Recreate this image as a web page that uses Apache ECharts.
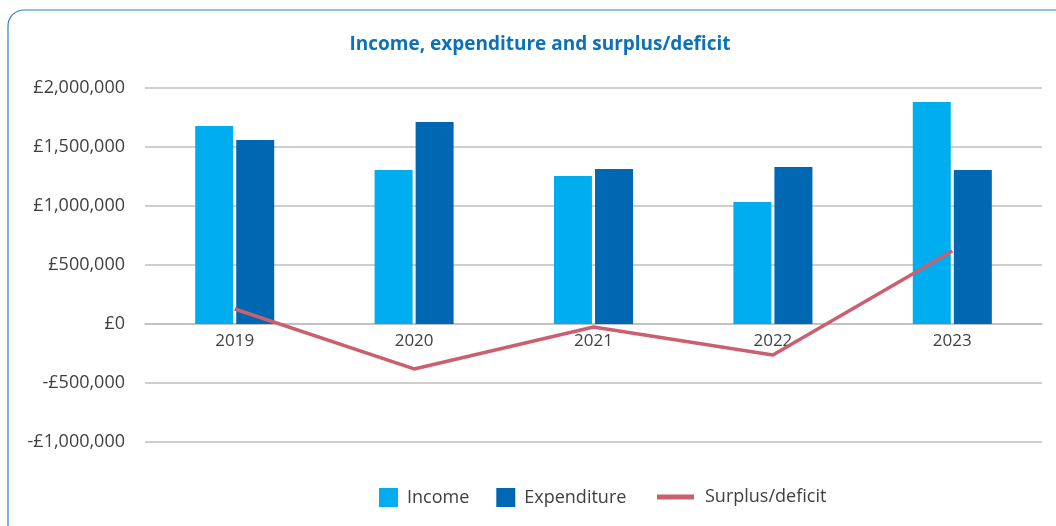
<!DOCTYPE html>
<html>
<head>
<meta charset="utf-8">
<script src="https://cdn.jsdelivr.net/npm/echarts@6/dist/echarts.min.js"></script>
<style>
html,body{margin:0;padding:0;background:#fff;}
#c{width:1056px;height:526px;}
</style>
</head>
<body>
<div id="c"></div>
<script>
const categories = ['2019', '2020', '2021', '2022', '2023'];
const income = [1678000, 1305000, 1254000, 1034000, 1881000];
const expenditure = [1559000, 1712000, 1314000, 1331000, 1305000];
const surplus = [127000, -381000, -25000, -263000, 619000];
const yTicks = { min: -1000000, max: 2000000, interval: 500000 };

const FONT = '"Open Sans", "Noto Sans", sans-serif';
function fmt(v) {
  const s = Math.abs(v).toLocaleString('en-GB');
  return (v < 0 ? '-' : '') + '£' + s;
}

const chart = echarts.init(document.getElementById('c'), null, { renderer: 'canvas' });
chart.setOption({
  animation: false,
  backgroundColor: '#fff',
  textStyle: { fontFamily: FONT },
  graphic: [{
    type: 'rect',
    shape: { x: 8, y: 10, width: 1200, height: 700, r: 16 },
    style: { fill: 'none', stroke: '#2f7fc8', lineWidth: 1.2 },
    silent: true, z: -10
  }],
  title: {
    text: 'Income, expenditure and surplus/deficit',
    left: 540, top: 35, textAlign: 'center', padding: 0,
    textStyle: { color: '#0b71bb', fontSize: 19, fontWeight: 'bold', fontFamily: FONT }
  },
  grid: { left: 145, right: 14, top: 88, bottom: 84, containLabel: false },
  legend: [{
    data: ['Income', 'Expenditure'],
    left: 379, top: 488, padding: 0,
    icon: 'rect', itemWidth: 19, itemHeight: 19, itemGap: 27,
    textStyle: { color: '#404040', fontSize: 18, fontFamily: FONT, padding: [0, 0, 0, 4] }
  }, {
    data: ['Surplus/deficit'],
    left: 657, top: 488, padding: 0,
    icon: 'rect', itemWidth: 37, itemHeight: 5,
    textStyle: { color: '#404040', fontSize: 18, fontFamily: FONT, padding: [0, 0, 0, 6] }
  }],
  xAxis: {
    type: 'category', data: categories,
    offset: -118,
    axisLine: { show: true, onZero: false, lineStyle: { color: '#bfbfbf', width: 1.5 } },
    axisTick: { show: false },
    axisLabel: { color: '#404040', fontSize: 17, margin: 9, fontFamily: FONT }
  },
  yAxis: {
    type: 'value', min: yTicks.min, max: yTicks.max, interval: yTicks.interval,
    axisLine: { show: false }, axisTick: { show: false },
    splitLine: { lineStyle: { color: '#bfbfbf', width: 1.5 } },
    axisLabel: { color: '#404040', fontSize: 18, margin: 20, fontFamily: FONT, formatter: fmt }
  },
  series: [{
    name: 'Income', type: 'bar', data: income, barWidth: 38, barGap: '8%',
    itemStyle: { color: '#00aeef' }
  }, {
    name: 'Expenditure', type: 'bar', data: expenditure, barWidth: 38,
    itemStyle: { color: '#0068b3' }
  }, {
    name: 'Surplus/deficit', type: 'line', data: surplus,
    symbol: 'none', lineStyle: { color: '#cc5f6f', width: 3.5 },
    itemStyle: { color: '#cc5f6f' }, z: 5
  }]
});
</script>
</body>
</html>
